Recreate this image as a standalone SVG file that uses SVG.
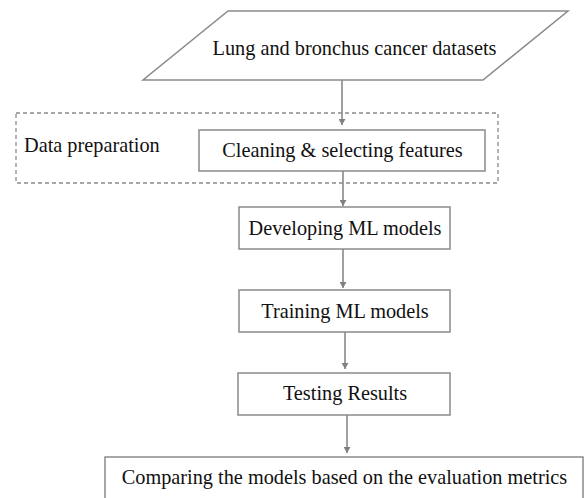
<svg xmlns="http://www.w3.org/2000/svg" width="585" height="498" viewBox="0 0 585 498">
<defs>
<style>
.box{fill:#fff;stroke:#8a8a8a;stroke-width:1.5}
.dash{fill:none;stroke:#8a8a8a;stroke-width:1.3;stroke-dasharray:4 3}
.t{font-family:"Liberation Serif","Times New Roman",serif;font-size:20.3px;fill:#111}
.c{text-anchor:middle}
.conn{stroke:#808080;stroke-width:1.5;fill:none;marker-end:url(#ah)}
</style>
<marker id="ah" markerWidth="7" markerHeight="7" refX="6" refY="3.5" orient="auto" markerUnits="userSpaceOnUse">
<path d="M0,0 L6,3.5 L0,7 Z" fill="#808080"/>
</marker>
</defs>
<rect width="585" height="498" fill="#fff"/>
<g id="connectors">
<line class="conn" x1="342" y1="80" x2="342" y2="125"/>
<line class="conn" x1="343" y1="171" x2="343" y2="206"/>
<line class="conn" x1="343" y1="249" x2="343" y2="288"/>
<line class="conn" x1="345" y1="332" x2="345" y2="369"/>
<line class="conn" x1="347" y1="415" x2="347" y2="453"/>
</g>
<g id="datasets">
<polygon class="box" points="228,11 568,11 483,80 143,80"/>
<text class="t c" x="354.5" y="55">Lung and bronchus cancer datasets</text>
</g>
<g id="data-preparation">
<rect class="dash" x="16" y="113" width="482" height="70"/>
<text class="t" x="24" y="152">Data preparation</text>
</g>
<g id="cleaning">
<rect class="box" x="199" y="130" width="286" height="41"/>
<text class="t c" x="342.5" y="157">Cleaning &amp; selecting features</text>
</g>
<g id="developing">
<rect class="box" x="239" y="207" width="211" height="42"/>
<text class="t c" x="345" y="235">Developing ML models</text>
</g>
<g id="training">
<rect class="box" x="239" y="290" width="211" height="42"/>
<text class="t c" x="345" y="318">Training ML models</text>
</g>
<g id="testing">
<rect class="box" x="238" y="373" width="212" height="42"/>
<text class="t c" x="345" y="400">Testing Results</text>
</g>
<g id="comparing">
<rect class="box" x="105" y="457" width="478" height="45"/>
<text class="t c" x="344.5" y="484">Comparing the models based on the evaluation metrics</text>
</g>
</svg>
